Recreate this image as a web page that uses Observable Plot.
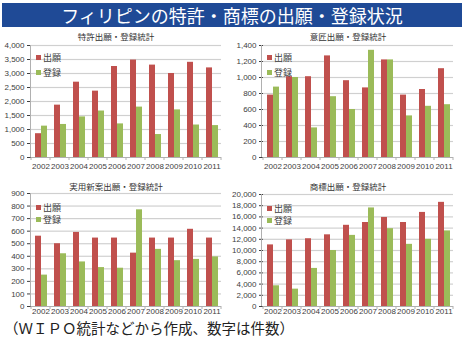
<!DOCTYPE html>
<html><head><meta charset="utf-8">
<script src="https://cdn.jsdelivr.net/npm/d3@7"></script>
<script src="https://cdn.jsdelivr.net/npm/@observablehq/plot@0.6"></script>
<style>
body{margin:0;background:#fff;}
#root{position:relative;width:464px;height:351px;overflow:hidden;background:#fff;font-family:"Noto Sans CJK JP",sans-serif;}
.bar{position:absolute;left:2px;top:3px;width:460px;height:24px;background:#1f4a96;color:#fff;font-size:18px;text-align:center;line-height:24px;white-space:nowrap;}
.ptitle{position:absolute;font-size:8.5px;color:#333;text-align:center;width:232px;line-height:10px;white-space:nowrap;}
.panel{position:absolute;}
.leg{position:absolute;font-size:9px;color:#404040;height:11px;line-height:11px;white-space:nowrap;}
.sw{display:inline-block;width:5px;height:5px;margin-right:2px;vertical-align:middle;position:relative;top:-1px;}
.cap{position:absolute;left:4px;top:320px;font-size:14.5px;line-height:16px;color:#222;white-space:nowrap;}
</style></head>
<body><div id="root"></div>
<script>
const years = ["2002","2003","2004","2005","2006","2007","2008","2009","2010","2011"];
const seriesNames = ["出願","登録"];
const seriesColors = ["#c0504d","#9bbb59"];
const mainTitle = "フィリピンの特許・商標の出願・登録状況";
const caption = "（ＷＩＰＯ統計などから作成、数字は件数）";

const patentTitle = "特許出願・登録統計";
const patentApp = [850,1870,2690,2370,3250,3480,3300,3000,3400,3200];
const patentReg = [1120,1180,1450,1660,1200,1800,820,1700,1160,1140];
const patentTicks = [0,500,1000,1500,2000,2500,3000,3500,4000];

const designTitle = "意匠出願・登録統計";
const designApp = [780,1010,1010,1270,960,870,1220,780,850,1110];
const designReg = [880,1000,370,760,600,1340,1220,520,640,660];
const designTicks = [0,200,400,600,800,1000,1200,1400];

const utilityTitle = "実用新案出願・登録統計";
const utilityApp = [560,500,590,545,545,425,545,545,615,545];
const utilityReg = [250,420,355,310,305,770,455,365,375,395];
const utilityTicks = [0,100,200,300,400,500,600,700,800,900];

const tmTitle = "商標出願・登録統計";
const tmApp = [11000,11900,12100,12800,14500,15000,15900,15000,16800,18600];
const tmReg = [3700,3100,6800,10000,12700,17600,13900,11100,12000,13500];
const tmTicks = [0,2000,4000,6000,8000,10000,12000,14000,16000,18000,20000];

const root = document.getElementById("root");
const bar = document.createElement("div");
bar.className = "bar"; bar.textContent = mainTitle; root.appendChild(bar);
const cap = document.createElement("div");
cap.className = "cap"; cap.textContent = caption; root.appendChild(cap);

function panel(cfg) {
  const rows = years.flatMap((y, i) => [
    {year: y, series: seriesNames[0], value: cfg.app[i]},
    {year: y, series: seriesNames[1], value: cfg.reg[i]}
  ]);
  const ticks = cfg.ticks;
  const plot = Plot.plot({
    width: 232, height: cfg.height,
    marginLeft: cfg.ml, marginRight: 10, marginTop: 15, marginBottom: cfg.mb,
    style: {fontFamily: '"Liberation Sans",sans-serif', fontSize: "8px", color: "#404040", background: "transparent", overflow: "visible"},
    facet: {data: rows, x: "year"},
    fx: {domain: years, padding: 0, label: null, tickSize: 0, tickPadding: cfg.xpad},
    x: {domain: seriesNames, paddingInner: 0, paddingOuter: 0.55, axis: null},
    y: {domain: [ticks[0], ticks[ticks.length - 1]], ticks: ticks, tickFormat: d3.format(","), tickSize: 4, tickPadding: 3, label: null},
    color: {domain: seriesNames, range: seriesColors},
    marks: [
      Plot.ruleY(ticks.slice(1), {stroke: "#d0d0d0", strokeWidth: 1.2}),
      Plot.barY(rows, {x: "series", y: "value", fill: "series"}),
      Plot.ruleY([0], {stroke: "#b0b0b0"})
    ]
  });
  const svg = d3.select(plot.tagName === "svg" ? plot : plot.querySelector("svg"));
  svg.selectAll('[aria-label="y-axis"] line, [aria-label="y-axis"] path').attr("stroke", "#b0b0b0");
  svg.selectAll('[aria-label="fx-axis"] text').style("font-size", "7px");
  const ys = plot.scale("y");
  const y0 = ys.apply(ticks[0]), y1 = ys.apply(ticks[ticks.length - 1]);
  const g = svg.append("g").attr("stroke", "#b0b0b0");
  g.append("line").attr("x1", cfg.ml + 0.5).attr("x2", cfg.ml + 0.5).attr("y1", y1).attr("y2", y0);
  const fx = plot.scale("fx");
  let edges;
  try {
    edges = years.map(y => fx.apply(y));
    edges.push(edges[edges.length - 1] + fx.bandwidth);
    if (edges.some(v => !isFinite(v))) throw 0;
  } catch (e) {
    const bw = (232 - cfg.ml - 10) / years.length;
    edges = d3.range(years.length + 1).map(i => cfg.ml + i * bw);
  }
  edges.forEach(x => g.append("line").attr("x1", x).attr("x2", x).attr("y1", y0).attr("y2", y0 + 3));
  const wrap = document.createElement("div");
  wrap.className = "panel";
  wrap.style.left = cfg.left + "px"; wrap.style.top = cfg.top + "px";
  wrap.appendChild(plot);
  root.appendChild(wrap);
  const t = document.createElement("div");
  t.className = "ptitle"; t.textContent = cfg.title;
  t.style.left = cfg.left + "px"; t.style.top = (cfg.titleY - 5) + "px";
  root.appendChild(t);
  seriesNames.forEach((s, i) => {
    const d = document.createElement("div");
    d.className = "leg";
    d.style.left = (cfg.left + cfg.ml + 6) + "px";
    d.style.top = (cfg.legY + i * cfg.legGap - 5.5) + "px";
    d.innerHTML = `<span class="sw" style="background:${seriesColors[i]}"></span>${s}`;
    root.appendChild(d);
  });
}

panel({title: patentTitle, app: patentApp, reg: patentReg, ticks: patentTicks, left: 0, top: 30, height: 145, ml: 30, mb: 18, xpad: 6, titleY: 36, legY: 57, legGap: 15});
panel({title: designTitle, app: designApp, reg: designReg, ticks: designTicks, left: 232, top: 30, height: 145, ml: 29, mb: 18, xpad: 6, titleY: 36, legY: 57, legGap: 15});
panel({title: utilityTitle, app: utilityApp, reg: utilityReg, ticks: utilityTicks, left: 0, top: 178, height: 145, ml: 30, mb: 17, xpad: 2, titleY: 186, legY: 207, legGap: 12.5});
panel({title: tmTitle, app: tmApp, reg: tmReg, ticks: tmTicks, left: 232, top: 179, height: 144, ml: 29, mb: 17, xpad: 2, titleY: 186, legY: 208, legGap: 12.5});
</script></body></html>
